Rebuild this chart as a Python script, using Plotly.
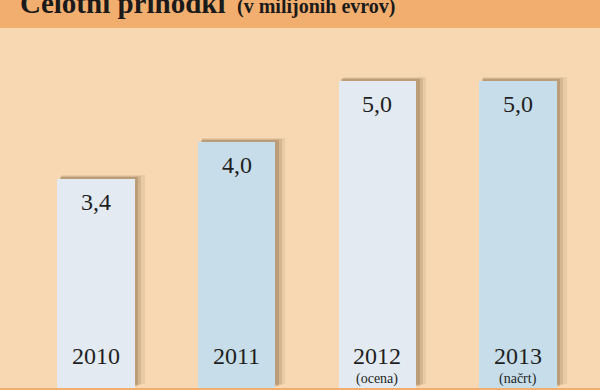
import plotly.graph_objects as go

categories = ["2010", "2011", "2012", "2013"]
values = [3.4, 4.0, 5.0, 5.0]
value_labels = ["3,4", "4,0", "5,0", "5,0"]
notes = ["", "", "(ocena)", "(načrt)"]
bar_colors = ["#E3EAF1", "#C7DDE9", "#E3EAF1", "#C7DDE9"]

title_main = "Celotni prihodki"
title_sub = "(v milijonih evrov)"

W, H = 600, 390
top_m, bot_m = 28, 2
plot_h = H - top_m - bot_m
px_per_unit = 61.5
y_max = plot_h / px_per_unit
cat_px = 140.7
first_center = 96
x_lo = -first_center / cat_px
x_hi = (W - first_center) / cat_px

bar_w = 0.55
fig = go.Figure()

# soft drop shadows (same data, offset slightly)
for dx, dy, extra, alpha in [(7, 4, 6, 0.10), (5, 3, 3, 0.16), (3, 2, 1, 0.24)]:
    fig.add_trace(go.Bar(
        x=list(range(len(categories))), y=values,
        base=dy / px_per_unit,
        width=bar_w + extra / cat_px,
        offset=-bar_w / 2 + (dx - extra / 2) / cat_px,
        marker=dict(color=f"rgba(110,80,50,{alpha})", line=dict(width=0)),
        hoverinfo="skip", showlegend=False,
    ))

fig.add_trace(go.Bar(
    x=list(range(len(categories))), y=values,
    width=bar_w,
    marker=dict(color=bar_colors, line=dict(width=0)),
    hoverinfo="skip", showlegend=False,
))

serif = "Liberation Serif"
txt_col = "#1f1f1f"
ann = []
for i, (lab, cat, note, v) in enumerate(zip(value_labels, categories, notes, values)):
    ann.append(dict(x=i, y=v, xref="x", yref="y", text=lab, showarrow=False,
                    yanchor="top", yshift=-8, font=dict(family=serif, size=24, color=txt_col)))
    ann.append(dict(x=i, y=0, xref="x", yref="y", text=cat, showarrow=False,
                    yanchor="middle", yshift=32, font=dict(family=serif, size=24, color=txt_col)))
    if note:
        ann.append(dict(x=i, y=0, xref="x", yref="y", text=note, showarrow=False,
                        yanchor="middle", yshift=9, font=dict(family=serif, size=14, color=txt_col)))

ann.append(dict(x=18 / W, y=1 + (top_m - 3) / plot_h, xref="paper", yref="paper",
                text=f"<b>{title_main}</b>", showarrow=False, xanchor="left", yanchor="middle",
                font=dict(family=serif, size=29, color="#1a1a1a")))
ann.append(dict(x=235 / W, y=1 + (top_m - 6) / plot_h, xref="paper", yref="paper",
                text=f"<b>{title_sub}</b>", showarrow=False, xanchor="left", yanchor="middle",
                font=dict(family=serif, size=20, color="#1a1a1a")))

shapes = [
    dict(type="rect", xref="paper", yref="paper", x0=0, x1=1, y0=1, y1=1 + (top_m + 5) / plot_h,
         fillcolor="#F2AE6E", line=dict(width=0), layer="below"),
    dict(type="rect", xref="paper", yref="paper", x0=0, x1=1, y0=-(bot_m + 2) / plot_h, y1=0,
         fillcolor="#F2AE6E", line=dict(width=0), layer="above"),
]

fig.update_layout(
    width=W, height=H,
    margin=dict(l=0, r=0, t=top_m, b=bot_m),
    paper_bgcolor="#F7D8B2", plot_bgcolor="#F7D8B2",
    barmode="overlay", bargap=0,
    xaxis=dict(range=[x_lo, x_hi], visible=False, fixedrange=True),
    yaxis=dict(range=[0, y_max], visible=False, fixedrange=True),
    annotations=ann, shapes=shapes, showlegend=False,
)

fig.write_html("out.html")
